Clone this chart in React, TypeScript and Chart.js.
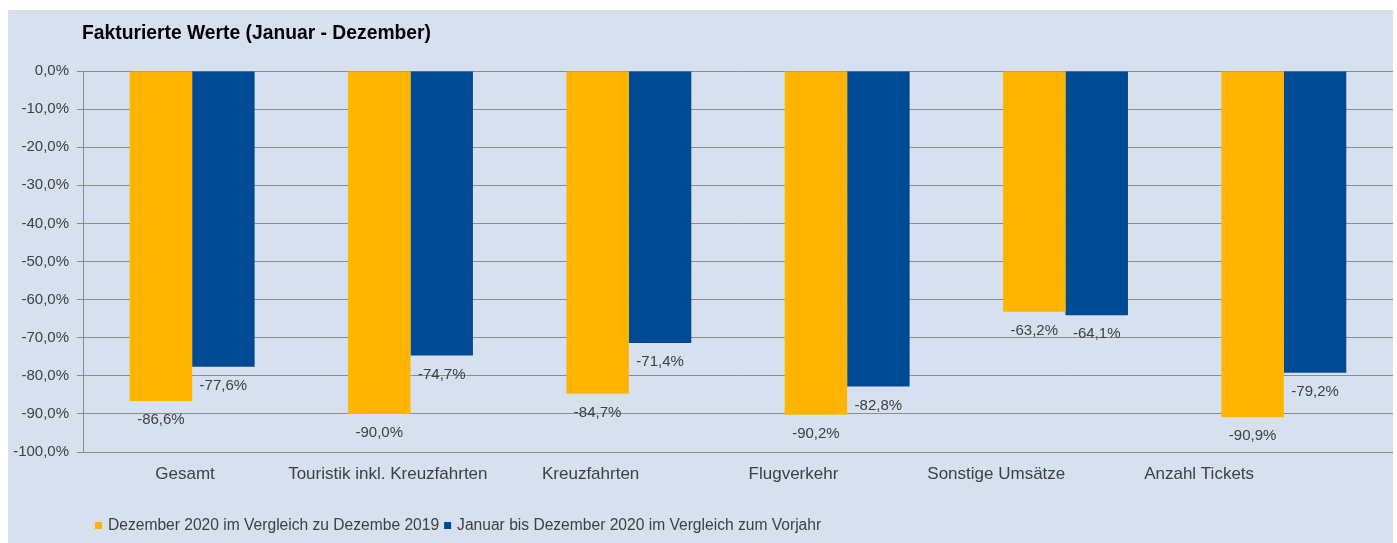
import React, { useEffect, useRef } from "react";
import { Chart, registerables } from "chart.js";

Chart.register(...registerables);

const chartTitle = "Fakturierte Werte (Januar - Dezember)";
const categories = [
  "Gesamt",
  "Touristik inkl. Kreuzfahrten",
  "Kreuzfahrten",
  "Flugverkehr",
  "Sonstige Umsätze",
  "Anzahl Tickets",
];
const seriesLabels = [
  "Dezember 2020 im Vergleich zu Dezembe 2019",
  "Januar bis Dezember 2020 im Vergleich zum Vorjahr",
];
const decemberValues = [-86.6, -90.0, -84.7, -90.2, -63.2, -90.9];
const yearValues = [-77.6, -74.7, -71.4, -82.8, -64.1, -79.2];
const seriesColors = ["#FFB400", "#004A93"];

const W = 1385;
const H = 533;
const FONT = "'Liberation Sans', Arial, sans-serif";
const TEXT = "#404040";
const GRID = "#8c8c8c";

const fmt = (v: number) => v.toFixed(1).replace(".", ",") + "%";

const extrasPlugin = {
  id: "extras",
  afterDatasetsDraw(chart: any) {
    const ctx = chart.ctx;
    ctx.save();
    ctx.font = `15px ${FONT}`;
    ctx.fillStyle = TEXT;
    ctx.textAlign = "center";
    ctx.textBaseline = "middle";
    chart.data.datasets.forEach((ds: any, i: number) => {
      const meta = chart.getDatasetMeta(i);
      meta.data.forEach((bar: any, j: number) => {
        ctx.fillText(fmt(ds.data[j]), bar.x, bar.y + 19);
      });
    });
    ctx.restore();
  },
  afterDraw(chart: any) {
    const ctx = chart.ctx;
    ctx.save();
    // title
    ctx.font = `bold 19.3px ${FONT}`;
    ctx.fillStyle = "#000000";
    ctx.textAlign = "left";
    ctx.textBaseline = "middle";
    ctx.fillText(chartTitle, chart.chartArea.left - 1, 24);
    // legend
    ctx.font = `15.6px ${FONT}`;
    let x = 87;
    const y = 516;
    chart.data.datasets.forEach((ds: any) => {
      ctx.fillStyle = ds.backgroundColor;
      ctx.fillRect(x, y - 4, 7, 7);
      x += 13;
      ctx.fillStyle = TEXT;
      ctx.fillText(ds.label, x, y);
      x += ctx.measureText(ds.label).width + 5;
    });
    ctx.restore();
  },
};

export default function App() {
  const ref = useRef<HTMLCanvasElement | null>(null);

  useEffect(() => {
    if (!ref.current) return;
    const chart = new Chart(ref.current, {
      type: "bar",
      data: {
        labels: categories,
        datasets: [
          {
            label: seriesLabels[0],
            data: decemberValues,
            backgroundColor: seriesColors[0],
            categoryPercentage: 0.572,
            barPercentage: 1,
          },
          {
            label: seriesLabels[1],
            data: yearValues,
            backgroundColor: seriesColors[1],
            categoryPercentage: 0.572,
            barPercentage: 1,
          },
        ],
      },
      options: {
        responsive: false,
        animation: false,
        devicePixelRatio: 1,
        layout: { padding: { top: 61, right: 0, left: 0, bottom: 0 } },
        plugins: {
          legend: { display: false },
          title: { display: false },
          tooltip: { enabled: false },
        },
        scales: {
          x: {
            display: false,
          },
          xLabels: {
            type: "linear",
            position: "bottom",
            offset: false,
            bounds: "data",
            min: -0.503,
            max: 5.956,
            grid: { display: false, drawTicks: false, offset: false },
            border: { display: false },
            afterBuildTicks(scale: any) {
              scale.ticks = categories.map((_, i) => ({ value: i }));
            },
            ticks: {
              color: TEXT,
              font: { family: FONT, size: 17 },
              padding: 12,
              maxRotation: 0,
              autoSkip: false,
              callback: (v: any) => {
                const i = Math.round(Number(v));
                return categories[i] ?? "";
              },
            },
            afterFit(scale: any) {
              scale.height = 91;
            },
          },
          y: {
            min: -100,
            max: 0,
            grid: { color: GRID, lineWidth: 1, tickLength: 6, tickColor: GRID },
            border: { display: true, color: GRID, width: 1 },
            ticks: {
              stepSize: 10,
              color: TEXT,
              font: { family: FONT, size: 15 },
              padding: 8,
              callback: (v: any) => fmt(Number(v)),
            },
            afterFit(scale: any) {
              scale.width = 75;
            },
          },
        },
      },
      plugins: [extrasPlugin],
    });
    return () => chart.destroy();
  }, []);

  return (
    <div
      style={{
        position: "absolute",
        left: 8,
        top: 10,
        width: W,
        height: H,
        background: "#D6E0EE",
      }}
    >
      <canvas ref={ref} width={W} height={H} style={{ width: W, height: H, display: "block" }} />
    </div>
  );
}
